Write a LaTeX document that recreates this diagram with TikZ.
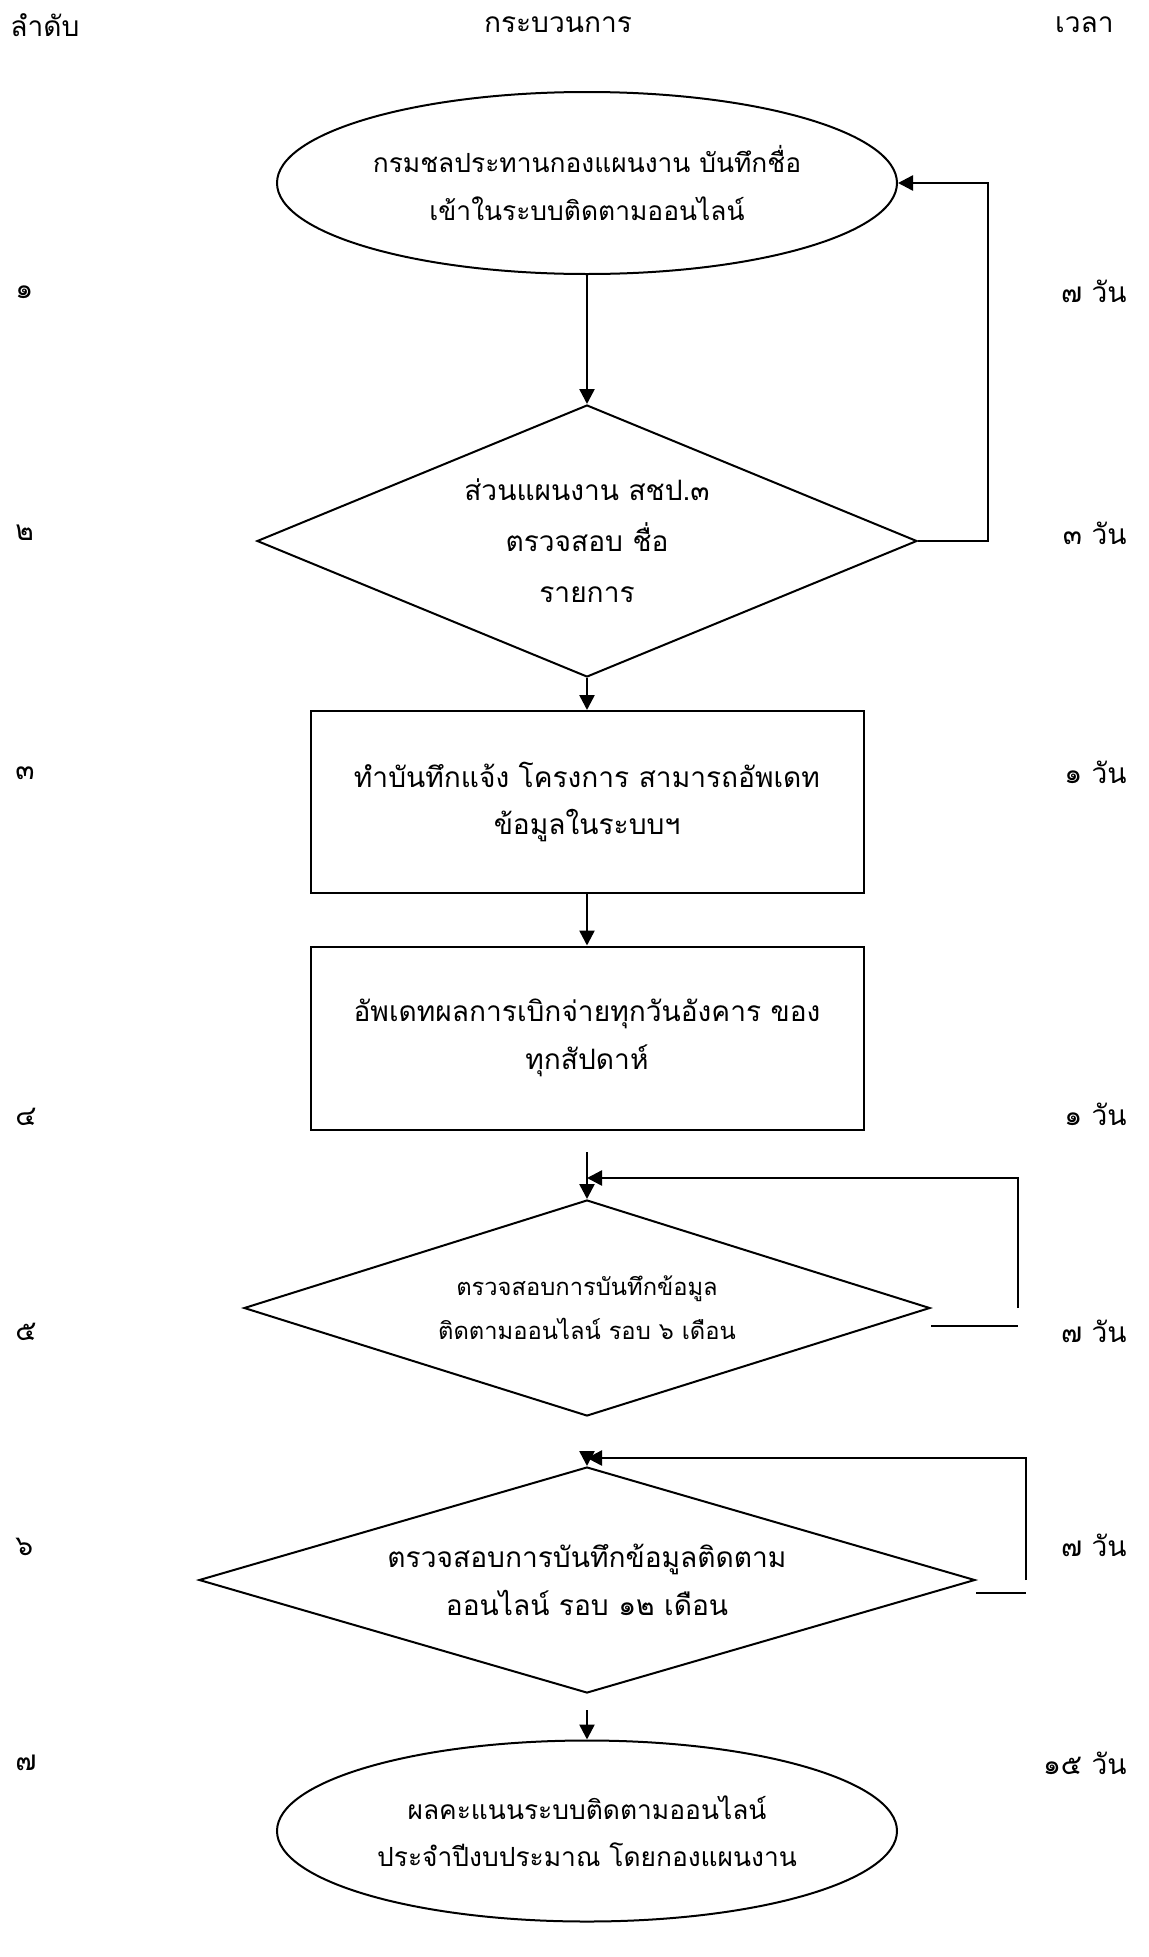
\documentclass[tikz,border=0pt]{standalone}
\usepackage{fontspec}
\setmainfont{Loma}[Script=Thai]
\usetikzlibrary{positioning, arrows.meta, shapes.geometric}

\begin{document}
\begin{tikzpicture}
    [
        node distance=5cm, on grid, inner sep=0pt,
        oval_node/.style={ellipse, draw=black, line width=0.4mm, minimum width=124mm, minimum height=36.4mm, align=center, font=\fontsize{15}{27}\selectfont},
        box_node/.style={rectangle, draw=black, line width=0.4mm, minimum width=110.6mm, minimum height=36.4mm, align=center, font=\fontsize{16}{27}\selectfont},
        diamond_node/.style={diamond, draw=black, line width=0.4mm, align=center, font=\fontsize{16}{29}\selectfont},
        side_node/.style={font=\fontsize{16}{27}\selectfont},
        flow_line/.style={-{Triangle[length=3mm, width=3mm]}, line width=0.5mm},
    ]
        \useasboundingbox (0,0) rectangle (22.98,-39.14);
        % column heads
        \node[side_node, anchor=west] (h_no) at (0.2,-0.5) {ลำดับ};
        \node[side_node] (h_proc) at (11.16,-0.5) {กระบวนการ};
        \node[side_node, anchor=east] (h_time) at (22.28,-0.5) {เวลา};
        % steps
        \node[oval_node] (start) at (11.74,-3.66) {กรมชลประทานกองแผนงาน บันทึกชื่อ\\เข้าในระบบติดตามออนไลน์};
        \node[diamond_node, aspect=2.43, minimum width=132mm, minimum height=54.4mm] (check1) [below = 7.16 of start] {ส่วนแผนงาน สชป.๓\\ตรวจสอบ ชื่อ\\รายการ};
        \node[box_node] (memo) [below = 5.22 of check1] {ทำบันทึกแจ้ง โครงการ สามารถอัพเดท\\ข้อมูลในระบบฯ};
        \node[box_node, minimum height=36.6mm] (update) [below = 4.72 of memo] {อัพเดทผลการเบิกจ่ายทุกวันอังคาร ของ\\ทุกสัปดาห์};
        \node[diamond_node, aspect=3.18, minimum width=137.2mm, minimum height=43.2mm, font=\fontsize{13.5}{25}\selectfont] (check6m) [below = 5.40 of update] {ตรวจสอบการบันทึกข้อมูล\\ติดตามออนไลน์ รอบ ๖ เดือน};
        \node[diamond_node, aspect=3.43, minimum width=155.2mm, minimum height=45.2mm, font=\fontsize{16}{27}\selectfont] (check12m) [below = 5.44 of check6m] {ตรวจสอบการบันทึกข้อมูลติดตาม\\ออนไลน์ รอบ ๑๒ เดือน};
        \node[oval_node, minimum height=36.2mm] (result) [below = 5.02 of check12m] {ผลคะแนนระบบติดตามออนไลน์\\ประจำปีงบประมาณ โดยกองแผนงาน};
        % order and time
        \node[side_node, anchor=west] (n1) at (0.3,-5.84) {๑};
        \node[side_node, anchor=west] (n2) at (0.3,-10.66) {๒};
        \node[side_node, anchor=west] (n3) at (0.3,-15.46) {๓};
        \node[side_node, anchor=west] (n4) at (0.3,-22.34) {๔};
        \node[side_node, anchor=west] (n5) at (0.3,-26.64) {๕};
        \node[side_node, anchor=west] (n6) at (0.3,-30.94) {๖};
        \node[side_node, anchor=west] (n7) at (0.3,-35.26) {๗};
        \node[side_node, anchor=east] (t1) at (22.54,-5.82) {๗ วัน};
        \node[side_node, anchor=east] (t2) at (22.54,-10.66) {๓ วัน};
        \node[side_node, anchor=east] (t3) at (22.54,-15.44) {๑ วัน};
        \node[side_node, anchor=east] (t4) at (22.54,-22.28) {๑ วัน};
        \node[side_node, anchor=east] (t5) at (22.54,-26.62) {๗ วัน};
        \node[side_node, anchor=east] (t6) at (22.54,-30.90) {๗ วัน};
        \node[side_node, anchor=east] (t7) at (22.54,-35.26) {๑๕ วัน};
        % connectors
        \coordinate[right = 8.02 of start] (back1);
        \coordinate[below = 2.28 of update] (in6m);
        \coordinate[below = 0.52 of in6m] (join6m);
        \coordinate[right = 8.62 of check6m] (back6m);
        \coordinate[below = 0.36 of check6m.east] (tail6m);
        \coordinate[above = 0.3 of check12m.north] (in12m);
        \coordinate[below = 0.14 of in12m] (join12m);
        \coordinate[right = 8.78 of check12m] (back12m);
        \coordinate[below = 0.26 of check12m.east] (tail12m);
        \coordinate[below = 0.32 of check12m.south] (in_result);
        \draw[flow_line] (start) -- (check1);
        \draw[flow_line] (check1.east) -| (back1) -- (start.east);
        \draw[flow_line] (check1) -- (memo);
        \draw[flow_line] (memo) -- (update);
        \draw[flow_line] (in6m) -- (check6m);
        \draw[flow_line] (back6m) |- (join6m);
        \draw[line width=0.5mm] (tail6m) -- (tail6m -| back6m);
        \draw[flow_line] (in12m) -- (check12m);
        \draw[flow_line] (back12m) |- (join12m);
        \draw[line width=0.5mm] (tail12m) -- (tail12m -| back12m);
        \draw[flow_line] (in_result) -- (result);
    \end{tikzpicture}
\end{document}
